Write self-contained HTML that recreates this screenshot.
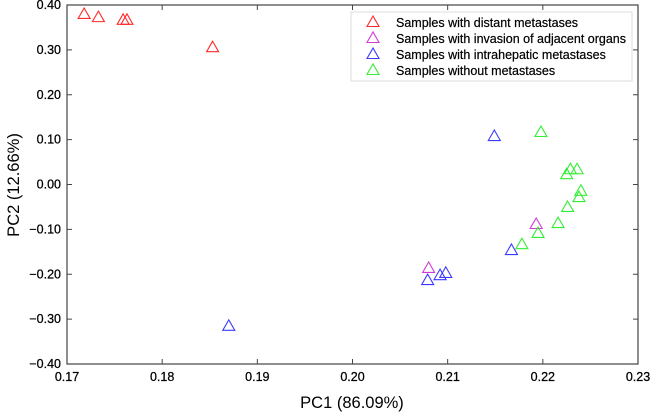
<!DOCTYPE html>
<html><head><meta charset="utf-8"><style>
body{margin:0;background:#fff;}
svg text{font-family:"Liberation Sans",sans-serif;fill:#000;}
</style></head><body>
<svg id="chart" width="650" height="412">
<g id="axes"></g><g id="pts"></g><g id="legend"></g>
<text x="352" y="408" font-size="16.5" text-anchor="middle">PC1 (86.09%)</text>
<text transform="translate(19,185) rotate(-90)" font-size="16.5" text-anchor="middle">PC2 (12.66%)</text>
</svg>
<script>
const xTicks=[0.17,0.18,0.19,0.20,0.21,0.22,0.23];
const yTicks=[0.40,0.30,0.20,0.10,0.00,-0.10,-0.20,-0.30,-0.40];
const seriesNames=["Samples with distant metastases","Samples with invasion of adjacent organs","Samples with intrahepatic metastases","Samples without metastases"];
const seriesColors=["#ff2a2a","#d23cd2","#3a3aff","#33ee33"];
const distantX=[0.1718,0.1733,0.1759,0.1763,0.1853];
const distantY=[0.380,0.373,0.367,0.367,0.306];
const invasionX=[0.2193,0.2080];
const invasionY=[-0.088,-0.186];
const intraX=[0.2149,0.2167,0.2079,0.2092,0.2098,0.1870];
const intraY=[0.108,-0.146,-0.213,-0.202,-0.197,-0.315];
const withoutX=[0.2198,0.2229,0.2236,0.2225,0.2240,0.2238,0.2226,0.2216,0.2195,0.2178];
const withoutY=[0.117,0.034,0.034,0.023,-0.014,-0.028,-0.050,-0.086,-0.108,-0.133];
const L=67,R=638,T=5,B=364;
const xs=v=>L+(v-0.17)/0.06*(R-L);
const ys=v=>T+(0.40-v)/0.80*(B-T);
const NS="http://www.w3.org/2000/svg";
function mk(tag,attrs,parent){const e=document.createElementNS(NS,tag);for(const k in attrs)e.setAttribute(k,attrs[k]);parent.appendChild(e);return e;}
const ax=document.getElementById('axes');
const frame=mk('rect',{x:L,y:T,width:R-L,height:B-T,fill:'none',stroke:'#444','stroke-width':1.2},ax);


xTicks.forEach(t=>{const x=xs(t);
 mk('line',{x1:x,x2:x,y1:B,y2:B-5,stroke:'#444'},ax);
 mk('line',{x1:x,x2:x,y1:T,y2:T+5,stroke:'#444'},ax);
 const tx=mk('text',{x:x,y:B+17,'font-size':12.5,'text-anchor':'middle',stroke:'#000','stroke-width':0.25},ax);tx.textContent=t.toFixed(2);
 
 
});
yTicks.forEach(t=>{const y=ys(t);
 mk('line',{x1:L,x2:L+5,y1:y,y2:y,stroke:'#444'},ax);
 mk('line',{x1:R,x2:R-5,y1:y,y2:y,stroke:'#444'},ax);
 const tx=mk('text',{x:L-6,y:y+4,'font-size':12.5,'text-anchor':'end',stroke:'#000','stroke-width':0.25},ax);tx.textContent=(t<0?'\u2212':'')+Math.abs(t).toFixed(2);
 
 
});
function tri(cx,cy,c,parent){const s=6;return mk('polygon',{points:`${cx},${cy-s} ${cx-s},${cy+4.5} ${cx+s},${cy+4.5}`,fill:'none',stroke:c,'stroke-width':1.1},parent);}
const pg=document.getElementById('pts');
const all=[[distantX,distantY],[invasionX,invasionY],[intraX,intraY],[withoutX,withoutY]];
all.forEach((s,i)=>{s[0].forEach((xv,j)=>{const p=tri(xs(xv),ys(s[1][j]),seriesColors[i],pg);
 
 });});
const lg=document.getElementById('legend');
const box=mk('rect',{x:351,y:12,width:281,height:69,fill:'#fff',stroke:'#ddd'},lg);


seriesNames.forEach((n,i)=>{const y=22+i*16;
 const m=tri(373,y,seriesColors[i],lg);
 
 
 const t=mk('text',{x:396,y:y+5,'font-size':12.5,stroke:'#000','stroke-width':0.2},lg);t.textContent=n;
 
 
});
</script>
</body></html>
